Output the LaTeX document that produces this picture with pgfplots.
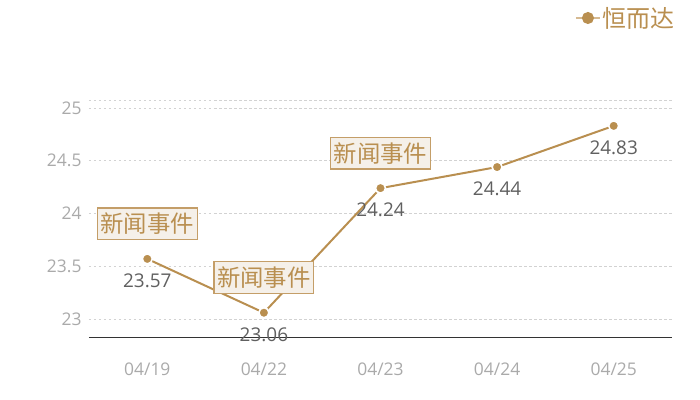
\documentclass[border=0pt]{standalone}
\usepackage{fontspec}
\setmainfont{Open Sans}
\newfontfamily\cjk{Noto Sans CJK SC}
\usepackage{pgfplots}
\pgfplotsset{compat=1.18}
\definecolor{gold}{RGB}{185,143,80}
\definecolor{goldlight}{RGB}{214,186,146}
\definecolor{boxfill}{RGB}{245,240,233}
\definecolor{boxdraw}{RGB}{196,158,104}
\definecolor{tickgray}{RGB}{170,170,170}
\definecolor{labgray}{RGB}{96,96,96}
\definecolor{gridgray}{RGB}{210,210,210}
\definecolor{axisdark}{RGB}{51,51,51}

\begin{document}
\begin{tikzpicture}
\useasboundingbox (-89bp,-63bp) rectangle (611bp,337bp);
\begin{axis}[
  at={(0,0)}, anchor=south west,
  scale only axis,
  width=583bp, height=237bp,
  xmin=-0.5, xmax=4.5,
  ymin=22.83, ymax=25.075,
  xtick={0,1,2,3,4},
  xticklabels={04/19,04/22,04/23,04/24,04/25},
  ytick={23,23.5,24,24.5,25},
  extra y ticks={25.075},
  extra y tick labels={},
  extra y tick style={ymajorgrids=true, major tick length=0pt},
  /pgf/number format/assume math mode=true,
  axis x line*=bottom,
  axis y line*=left,
  x axis line style={draw=axisdark, line width=1bp},
  y axis line style={draw=none},
  major tick length=0pt,
  ymajorgrids,
  grid style={draw=gridgray, dash pattern=on 2.5bp off 2.5bp, line width=0.7bp},
  tick label style={text=tickgray, font=\fontsize{17.5}{20}\selectfont},
  yticklabel style={xshift=-4bp},
  xticklabel style={yshift=-22bp},
  clip=false,
  legend entries={\cjk 恒而达},
  legend style={draw=none, fill=none, at={(1.008,1.346)}, anchor=east,
    font=\fontsize{24}{26}\selectfont, text=gold, inner sep=0pt},
  legend image code/.code={
    \draw[goldlight, line width=1.6bp] (0bp,0bp) -- (24bp,0bp);
    \fill[gold] (12bp,0bp) circle (5bp);
  },
]
\addplot[gold, line width=2bp,
  mark=*, mark size=5bp,
  mark options={draw=white, fill=gold, line width=1.6bp},
  point meta=y,
  nodes near coords={\pgfmathprintnumber[fixed,precision=2,zerofill]{\pgfplotspointmeta}},
  every node near coord/.style={anchor=center, yshift=-22bp, text=labgray,
    font=\fontsize{19}{21}\selectfont},
] coordinates {(0,23.57) (1,23.06) (2,24.24) (3,24.44) (4,24.83)};

\addplot[draw=none, mark=none, forget plot,
  nodes near coords={\cjk 新闻事件},
  every node near coord/.style={anchor=center, yshift=35bp,
    fill=boxfill, draw=boxdraw, line width=1.2bp, text=gold,
    inner xsep=3bp, inner ysep=5bp,
    font=\fontsize{23.5}{26}\selectfont},
] coordinates {(0,23.57) (1,23.06) (2,24.24)};
\end{axis}
\end{tikzpicture}
\end{document}
